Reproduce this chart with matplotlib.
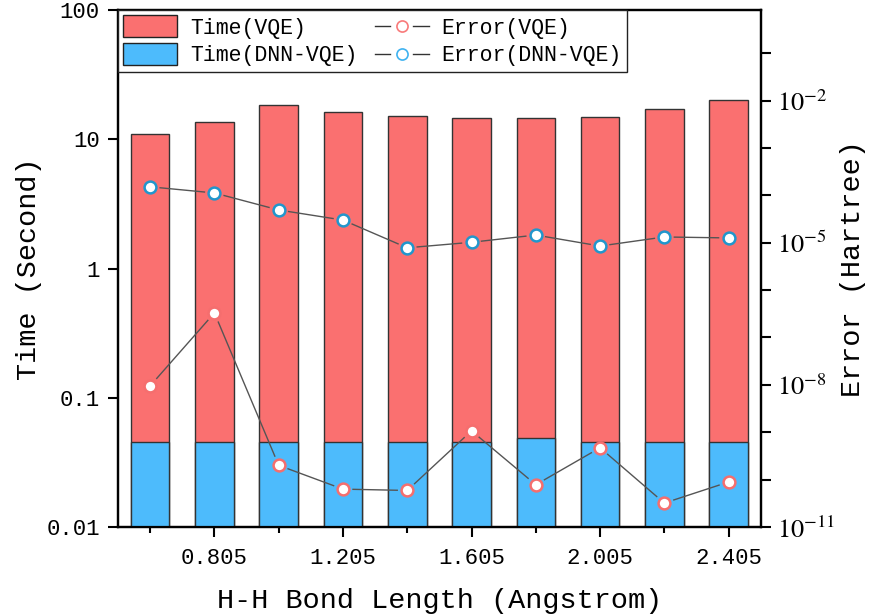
import numpy as np
import matplotlib
matplotlib.use("Agg")
import matplotlib.pyplot as plt
from matplotlib.patches import Patch
from matplotlib.lines import Line2D
from matplotlib.legend_handler import HandlerBase
from matplotlib.ticker import FixedLocator, FixedFormatter, NullLocator

# ---------------- data ----------------
bond_length = [0.605, 0.805, 1.005, 1.205, 1.405, 1.605, 1.805, 2.005, 2.205, 2.405]
time_vqe = [11.0, 13.6, 18.4, 16.2, 15.2, 14.6, 14.7, 14.8, 17.2, 20.2]
time_dnn_vqe = [0.0457, 0.0457, 0.0457, 0.0455, 0.0457, 0.0452, 0.0486, 0.0451, 0.0452, 0.0452]
error_vqe = [9.5e-9, 3.3e-7, 2.0e-10, 6.3e-11, 5.9e-11, 1.07e-9, 7.8e-11, 4.7e-10, 3.2e-11, 8.9e-11]
error_dnn_vqe = [1.51e-4, 1.12e-4, 4.9e-5, 3.0e-5, 7.8e-6, 1.02e-5, 1.45e-5, 8.5e-6, 1.32e-5, 1.26e-5]

xtick_vals = [0.805, 1.205, 1.605, 2.005, 2.405]
xtick_labels = ["0.805", "1.205", "1.605", "2.005", "2.405"]
left_ticks = [0.01, 0.1, 1, 10, 100]
left_labels = ["0.01", "0.1", "1", "10", "100"]
right_major = [-11, -8, -5, -2]

# ---------------- style ----------------
FONT = "Liberation Mono"
plt.rcParams["font.family"] = [FONT, "DejaVu Sans"]
plt.rcParams["mathtext.fontset"] = "stix"

RED = "#FA7070"
BLUE = "#4DBBFC"
RED_EDGE = "#F56E6E"
BLUE_EDGE = "#2196CC"
LINE_C = "#555555"

fig = plt.figure(figsize=(8.71, 6.15), dpi=100)
ax = fig.add_axes([0.1355, 0.1431, 0.7379, 0.8406])
ax2 = ax.twinx()

x = np.array(bond_length)

ax.set_yscale("log")
ax.set_ylim(0.01, 100)
ax.set_xlim(0.505, 2.505)
ax.bar(x, time_vqe, width=0.12, color=RED, edgecolor="#333333", linewidth=1.0, zorder=2)
ax.bar(x, time_dnn_vqe, width=0.12, color=BLUE, edgecolor="#333333", linewidth=1.0, zorder=3)

ax.set_yticks(left_ticks)
ax.set_yticklabels(left_labels)
ax.yaxis.set_minor_locator(NullLocator())
ax.set_xticks(xtick_vals)
ax.set_xticklabels(xtick_labels)
ax.set_xticks(bond_length, minor=True)

ax2.set_yscale("log")
ax2.set_ylim(1e-11, 10 ** -0.09)
all_dec = [10.0 ** e for e in range(-11, 0)]
ax2.yaxis.set_major_locator(FixedLocator(all_dec))
ax2.yaxis.set_major_formatter(FixedFormatter(
    [(r"$10^{%d}$" % e) if e in right_major else "" for e in range(-11, 0)]))
ax2.yaxis.set_minor_locator(NullLocator())

for a in (ax, ax2):
    for s in a.spines.values():
        s.set_linewidth(1.6)
ax.tick_params(axis="both", which="major", direction="out", length=7, width=1.5,
               labelsize=16, pad=6)
ax.tick_params(axis="x", which="minor", direction="out", length=4, width=1.5)
ax.tick_params(axis="x", which="major", pad=8)
ax2.tick_params(axis="y", which="major", direction="out", length=7, width=1.5,
                labelsize=19, pad=5)

ax.set_xlabel("H-H Bond Length (Angstrom)", fontsize=20.5, labelpad=14)
ax.set_ylabel("Time (Second)", fontsize=20.5, labelpad=3)
ax2.set_ylabel("Error (Hartree)", fontsize=20.5, labelpad=3)


def gapped_line(axis, xs, ys, shrink_px=10):
    pts = axis.transData.transform(np.column_stack([xs, ys]))
    inv = axis.transData.inverted()
    for p, q in zip(pts[:-1], pts[1:]):
        d = q - p
        L = np.hypot(*d)
        if L <= 2 * shrink_px:
            continue
        u = d / L
        a = inv.transform(p + u * shrink_px)
        b = inv.transform(q - u * shrink_px)
        axis.plot([a[0], b[0]], [a[1], b[1]], color=LINE_C, lw=1.0, zorder=4)


gapped_line(ax2, x, error_vqe)
gapped_line(ax2, x, error_dnn_vqe)
ax2.plot(x, error_vqe, ls="none", marker="o", ms=8.5, mfc="white", mec=RED_EDGE, mew=1.8, zorder=5)
ax2.plot(x, error_dnn_vqe, ls="none", marker="o", ms=8.5, mfc="white", mec=BLUE_EDGE, mew=1.8, zorder=5)


class GapHandler(HandlerBase):
    def __init__(self, edge):
        super().__init__()
        self.edge = edge

    def create_artists(self, legend, orig_handle, xdescent, ydescent, width, height,
                       fontsize, trans):
        y = height / 2 - ydescent
        x0 = -xdescent
        x1 = x0 + width
        cx = (x0 + x1) / 2
        g = 0.22 * width
        l1 = Line2D([x0, cx - g], [y, y], color="#333333", lw=1.0, transform=trans)
        l2 = Line2D([cx + g, x1], [y, y], color="#333333", lw=1.0, transform=trans)
        m = Line2D([cx], [y], ls="none", marker="o", ms=8, mfc="white",
                   mec=self.edge, mew=1.2, transform=trans)
        return [l1, l2, m]


h1 = Patch(facecolor=RED, edgecolor="#222222", linewidth=1.0)
h2 = Patch(facecolor=BLUE, edgecolor="#222222", linewidth=1.0)
h3 = Line2D([], [])
h4 = Line2D([], [])
leg = ax2.legend([h1, h2, h3, h4],
                 ["Time(VQE)", "Time(DNN-VQE)", "Error(VQE)", "Error(DNN-VQE)"],
                 handler_map={h3: GapHandler("#F87A7A"), h4: GapHandler("#3FB2F0")},
                 ncol=2, loc="upper left", bbox_to_anchor=(0.0, 1.0), borderaxespad=0.0,
                 fontsize=15.5, frameon=True, fancybox=False, framealpha=1.0,
                 edgecolor="#222222", handlelength=2.5, handleheight=1.2,
                 handletextpad=0.6, labelspacing=0.2, columnspacing=0.8, borderpad=0.25)
leg.get_frame().set_linewidth(1.0)
leg.set_zorder(10)

fig.savefig("out.png", dpi=100)
